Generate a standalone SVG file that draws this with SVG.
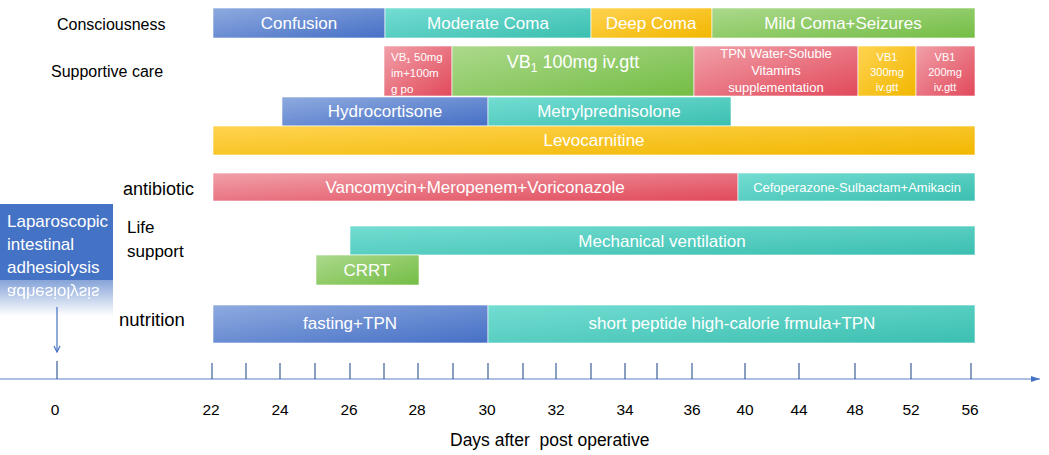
<svg xmlns="http://www.w3.org/2000/svg" width="1049" height="455" viewBox="0 0 1049 455">
<style>
.lbl{font-family:"Liberation Sans",Arial,sans-serif;fill:#000;}
.bt{font-family:"Liberation Sans",Arial,sans-serif;fill:#fff;text-anchor:middle;}
.sm{font-family:"Liberation Sans",Arial,sans-serif;fill:#fff;font-size:11.5px;}
.num{font-family:"Liberation Sans",Arial,sans-serif;fill:#000;font-size:15.5px;text-anchor:middle;}
.tick{stroke:#3d5f96;stroke-width:1.2;}
.bar{stroke:#fff;stroke-width:0.6;}
</style>
<defs>
<linearGradient id="gBlue" x1="0" y1="0" x2="1" y2="1"><stop offset="0" stop-color="#8eaadf"/><stop offset="1" stop-color="#4670c6"/></linearGradient>
<linearGradient id="gTeal" x1="0" y1="0" x2="1" y2="1"><stop offset="0" stop-color="#74ddd2"/><stop offset="1" stop-color="#3bbfb0"/></linearGradient>
<linearGradient id="gYel" x1="0" y1="0" x2="1" y2="1"><stop offset="0" stop-color="#ffd350"/><stop offset="1" stop-color="#f1b700"/></linearGradient>
<linearGradient id="gGrn" x1="0" y1="0" x2="1" y2="1"><stop offset="0" stop-color="#acd98c"/><stop offset="1" stop-color="#74bd45"/></linearGradient>
<linearGradient id="gRed" x1="0" y1="0" x2="1" y2="1"><stop offset="0" stop-color="#f1a0a8"/><stop offset="1" stop-color="#e1495b"/></linearGradient>
<linearGradient id="fadeG" x1="0" y1="0" x2="0" y2="1"><stop offset="0" stop-color="#fff" stop-opacity="0.65"/><stop offset="1" stop-color="#fff" stop-opacity="0"/></linearGradient>
<mask id="fadeM" maskUnits="userSpaceOnUse" x="0" y="280" width="120" height="40"><rect x="0" y="280" width="120" height="36" fill="url(#fadeG)"/></mask>
<marker id="arr" markerWidth="8" markerHeight="8" refX="7" refY="4" orient="auto" markerUnits="userSpaceOnUse"><path d="M1,1 L7,4 L1,7" fill="none" stroke="#4472c4" stroke-width="1.2"/></marker>
<marker id="arrAx" markerWidth="10" markerHeight="8" refX="9" refY="4" orient="auto" markerUnits="userSpaceOnUse"><path d="M0,1 L9,4 L0,7 Z" fill="#4472c4"/></marker>
</defs>
<rect width="1049" height="455" fill="#fff"/>

<g id="row-labels">
<text class="lbl" x="57" y="30" font-size="16">Consciousness</text>
<text class="lbl" x="51" y="77" font-size="16">Supportive care</text>
<text class="lbl" x="123" y="195" font-size="18">antibiotic</text>
<text class="lbl" x="127" y="233" font-size="17">Life</text>
<text class="lbl" x="127" y="257" font-size="17">support</text>
<text class="lbl" x="119" y="326" font-size="18.5">nutrition</text>
</g>

<g id="surgery">
<rect x="0" y="204" width="113" height="76" fill="#4472c4"/>
<text class="lbl" x="7" y="227" font-size="17" style="fill:#fff">Laparoscopic</text>
<text class="lbl" x="7" y="250" font-size="17" style="fill:#fff">intestinal</text>
<text class="lbl" x="7" y="273" font-size="17" style="fill:#fff">adhesiolysis</text>
<g mask="url(#fadeM)">
<g transform="translate(0,560) scale(1,-1)">
<rect x="0" y="204" width="113" height="76" fill="#4472c4"/>
<text class="lbl" x="7" y="273" font-size="17" style="fill:#fff">adhesiolysis</text>
</g>
</g>
</g>

<g id="consciousness">
<rect class="bar" x="213" y="8" width="172" height="30" fill="url(#gBlue)"/>
<text class="bt" x="299" y="29" font-size="17">Confusion</text>
<rect class="bar" x="385" y="8" width="206" height="30" fill="url(#gTeal)"/>
<text class="bt" x="488" y="29" font-size="17">Moderate Coma</text>
<rect class="bar" x="591" y="8" width="121" height="30" fill="url(#gYel)"/>
<text class="bt" x="651" y="29" font-size="17">Deep Coma</text>
<rect class="bar" x="712" y="8" width="263" height="30" fill="url(#gGrn)"/>
<text class="bt" x="843" y="29" font-size="17">Mild Coma+Seizures</text>
</g>

<g id="supportive">
<rect class="bar" x="384" y="46" width="68" height="50" fill="url(#gRed)"/>
<text class="sm" x="391" y="61">VB<tspan font-size="8" dy="2">1</tspan><tspan dy="-2"> 50mg</tspan></text>
<text class="sm" x="391" y="77">im+100m</text>
<text class="sm" x="391" y="93">g po</text>
<rect class="bar" x="452" y="46" width="242" height="50" fill="url(#gGrn)"/>
<text class="bt" x="573" y="68" font-size="18">VB<tspan font-size="12" dy="4">1</tspan><tspan dy="-4"> 100mg iv.gtt</tspan></text>
<rect class="bar" x="694" y="46" width="164" height="50" fill="url(#gRed)"/>
<text class="bt" x="776" y="58" font-size="13">TPN Water-Soluble</text>
<text class="bt" x="776" y="75" font-size="13">Vitamins</text>
<text class="bt" x="776" y="92" font-size="13">supplementation</text>
<rect class="bar" x="858" y="46" width="58" height="50" fill="url(#gYel)"/>
<text class="bt" x="887" y="61" font-size="11">VB1</text>
<text class="bt" x="887" y="76" font-size="11">300mg</text>
<text class="bt" x="887" y="91" font-size="11">iv.gtt</text>
<rect class="bar" x="916" y="46" width="59" height="50" fill="url(#gRed)"/>
<text class="bt" x="945" y="61" font-size="11">VB1</text>
<text class="bt" x="945" y="76" font-size="11">200mg</text>
<text class="bt" x="945" y="91" font-size="11">iv.gtt</text>
</g>

<g id="steroids">
<rect class="bar" x="282" y="97" width="206" height="29" fill="url(#gBlue)"/>
<text class="bt" x="385" y="117" font-size="17">Hydrocortisone</text>
<rect class="bar" x="488" y="97" width="243" height="29" fill="url(#gTeal)"/>
<text class="bt" x="609" y="117" font-size="17">Metrylprednisolone</text>
</g>

<g id="levocarnitine">
<rect class="bar" x="213" y="126" width="762" height="29" fill="url(#gYel)"/>
<text class="bt" x="594" y="146" font-size="17">Levocarnitine</text>
</g>

<g id="antibiotic">
<rect class="bar" x="213" y="173" width="525" height="28" fill="url(#gRed)"/>
<text class="bt" x="475" y="193" font-size="17">Vancomycin+Meropenem+Voriconazole</text>
<rect class="bar" x="738" y="173" width="237" height="28" fill="url(#gTeal)"/>
<text class="bt" x="857" y="192" font-size="13">Cefoperazone-Sulbactam+Amikacin</text>
</g>

<g id="life-support">
<rect class="bar" x="350" y="226" width="625" height="29" fill="url(#gTeal)"/>
<text class="bt" x="662" y="247" font-size="17">Mechanical ventilation</text>
<rect class="bar" x="316" y="255" width="103" height="30" fill="url(#gGrn)"/>
<text class="bt" x="367" y="276" font-size="17">CRRT</text>
</g>

<g id="nutrition">
<rect class="bar" x="213" y="305" width="275" height="38" fill="url(#gBlue)"/>
<text class="bt" x="350" y="329" font-size="17">fasting+TPN</text>
<rect class="bar" x="488" y="305" width="487" height="38" fill="url(#gTeal)"/>
<text class="bt" x="732" y="329" font-size="17">short peptide high-calorie frmula+TPN</text>
</g>

<g id="connectors">
<line x1="57" y1="307" x2="57" y2="352" stroke="#4472c4" stroke-width="1.2" marker-end="url(#arr)"/>
<line x1="0" y1="379" x2="1040" y2="379" stroke="#5a7fc4" stroke-width="1.2" marker-end="url(#arrAx)"/>
</g>

<g id="axis">
<g class="tick">
<line x1="57" y1="361" x2="57" y2="379"/>
<line x1="212" y1="363" x2="212" y2="379"/>
<line x1="246" y1="363" x2="246" y2="379"/>
<line x1="280" y1="363" x2="280" y2="379"/>
<line x1="315" y1="363" x2="315" y2="379"/>
<line x1="350" y1="363" x2="350" y2="379"/>
<line x1="384" y1="363" x2="384" y2="379"/>
<line x1="418" y1="363" x2="418" y2="379"/>
<line x1="453" y1="363" x2="453" y2="379"/>
<line x1="488" y1="363" x2="488" y2="379"/>
<line x1="523" y1="363" x2="523" y2="379"/>
<line x1="556" y1="363" x2="556" y2="379"/>
<line x1="591" y1="363" x2="591" y2="379"/>
<line x1="625" y1="363" x2="625" y2="379"/>
<line x1="657" y1="363" x2="657" y2="379"/>
<line x1="692" y1="363" x2="692" y2="379"/>
<line x1="745" y1="363" x2="745" y2="379"/>
<line x1="799" y1="363" x2="799" y2="379"/>
<line x1="855" y1="363" x2="855" y2="379"/>
<line x1="911" y1="363" x2="911" y2="379"/>
<line x1="971" y1="363" x2="971" y2="379"/>
</g>
<text class="num" x="55" y="415">0</text>
<text class="num" x="211" y="415">22</text>
<text class="num" x="280" y="415">24</text>
<text class="num" x="349" y="415">26</text>
<text class="num" x="417" y="415">28</text>
<text class="num" x="487" y="415">30</text>
<text class="num" x="556" y="415">32</text>
<text class="num" x="625" y="415">34</text>
<text class="num" x="692" y="415">36</text>
<text class="num" x="745" y="415">40</text>
<text class="num" x="799" y="415">44</text>
<text class="num" x="855" y="415">48</text>
<text class="num" x="911" y="415">52</text>
<text class="num" x="970" y="415">56</text>
<text class="lbl" x="450" y="446" font-size="17.5" style="white-space:pre">Days after  post operative</text>
</g>
</svg>
